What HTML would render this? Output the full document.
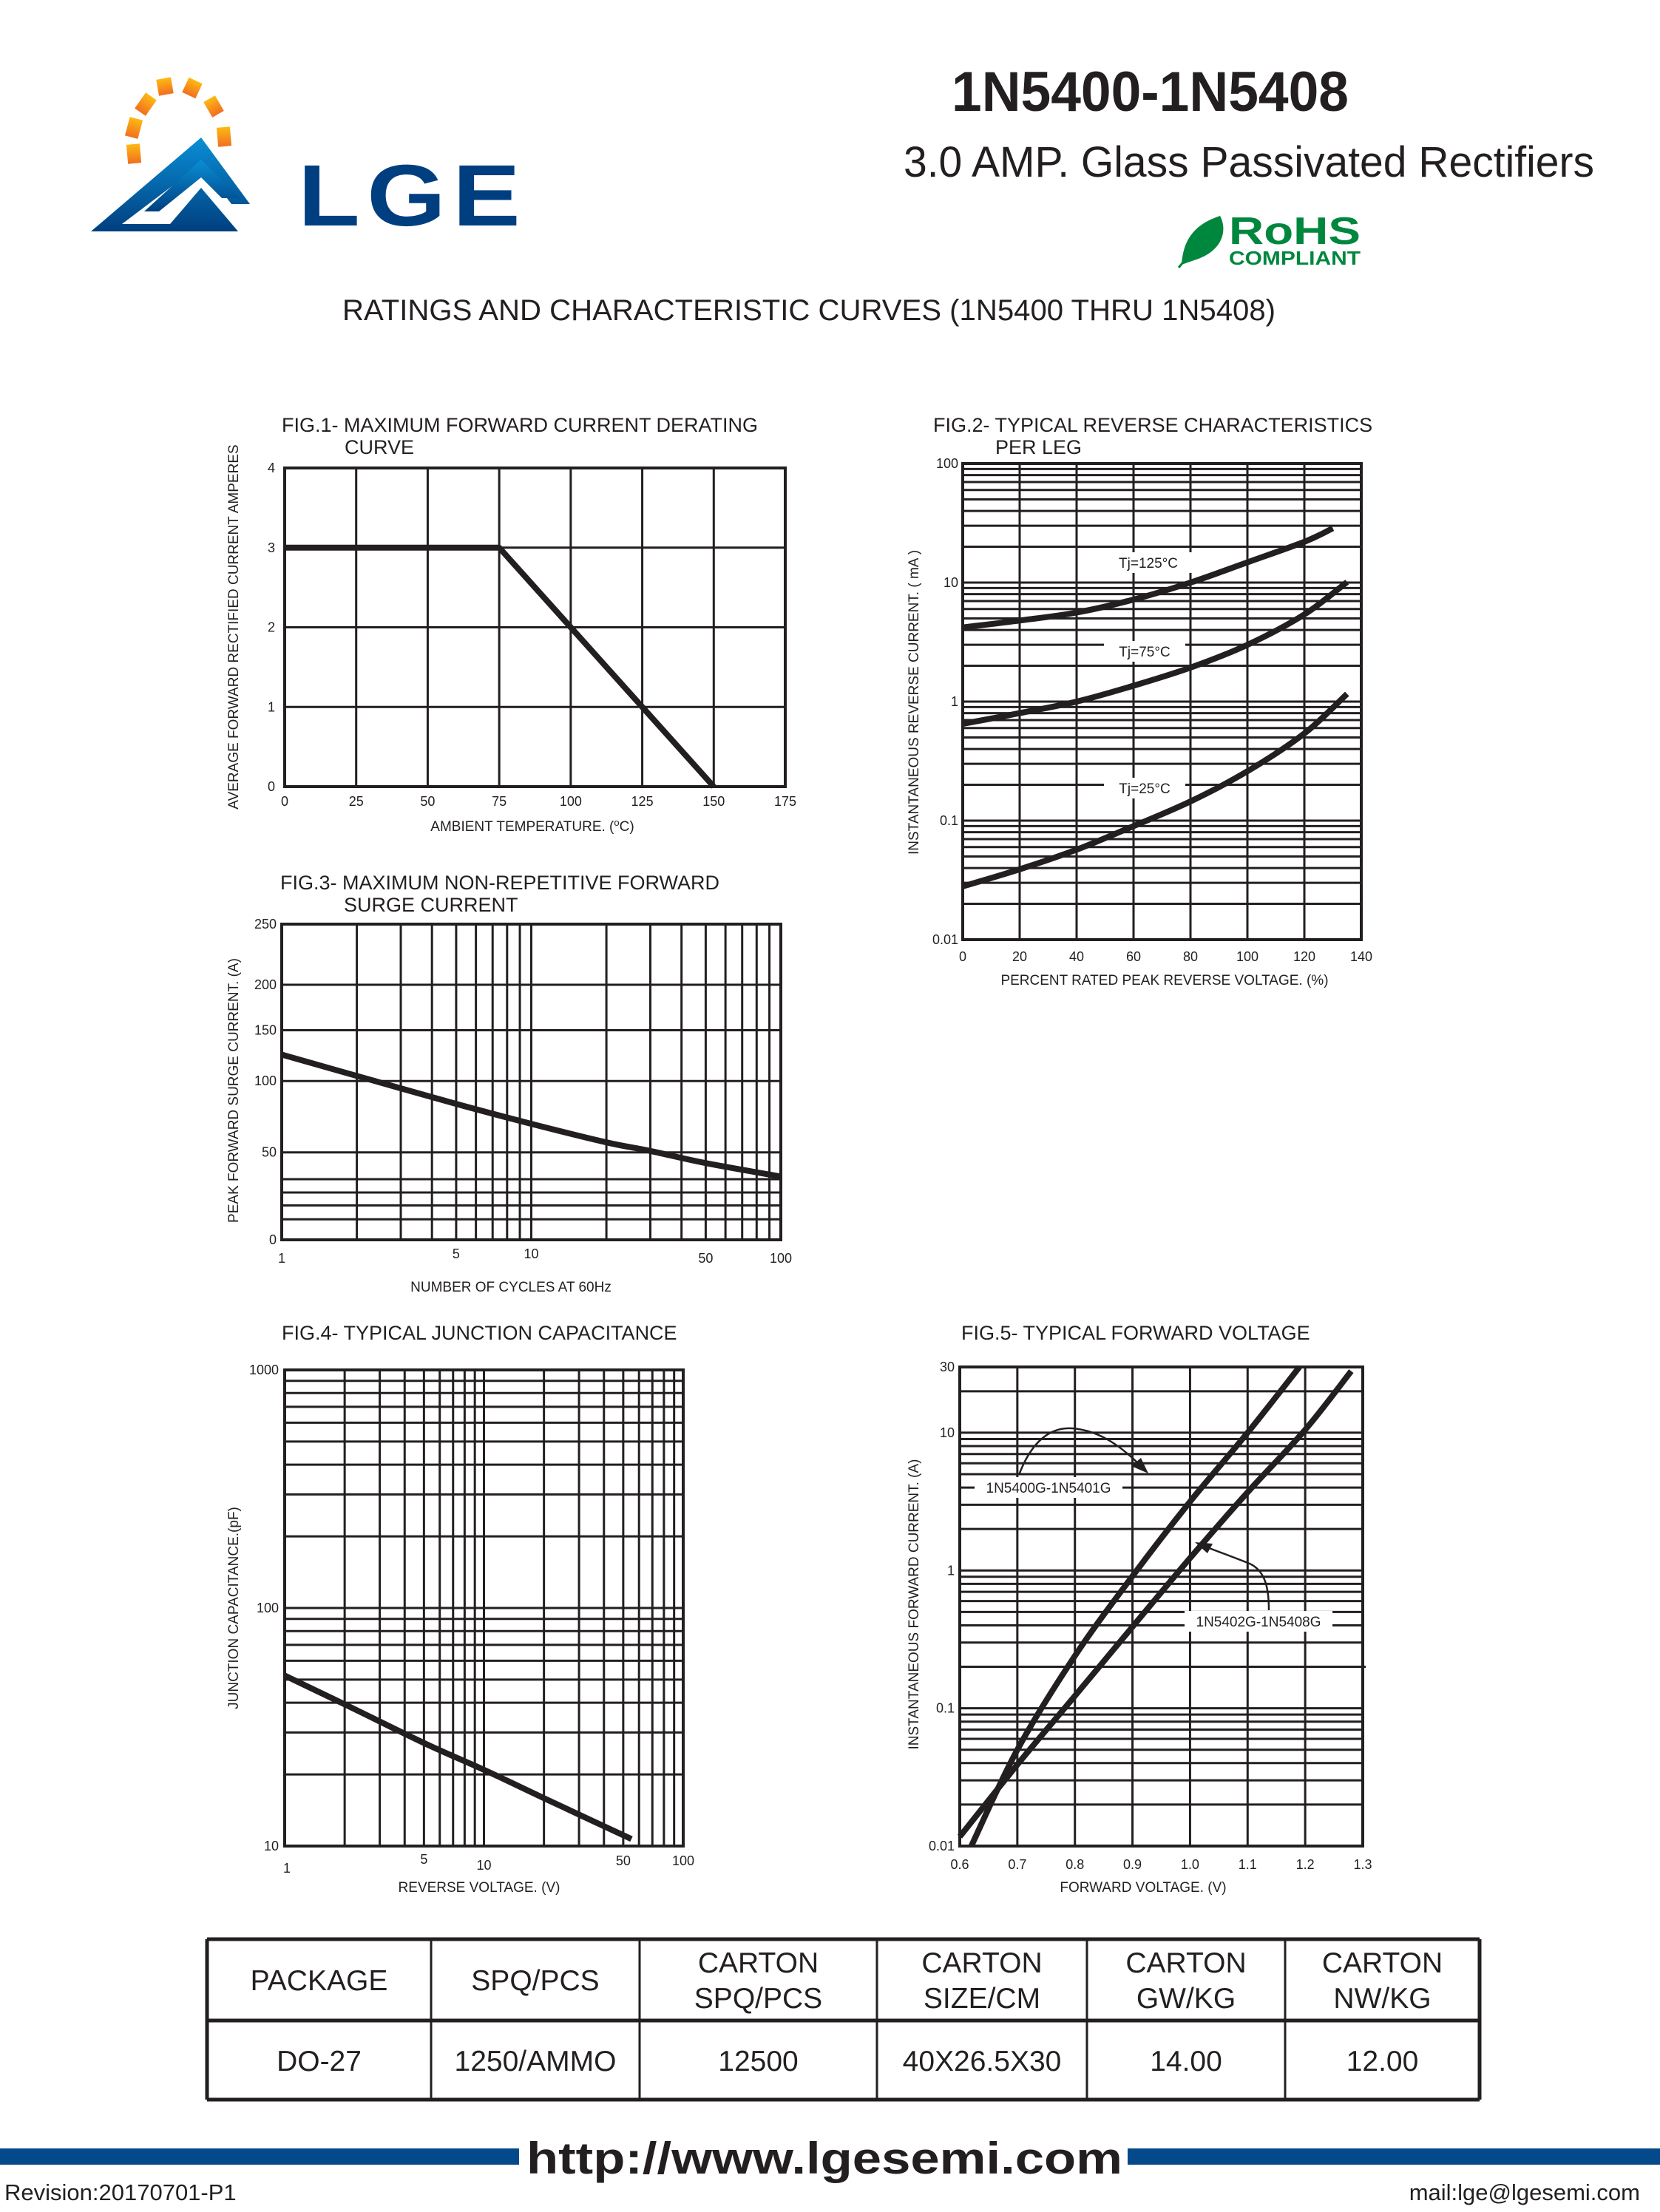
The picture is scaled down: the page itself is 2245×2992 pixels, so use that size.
<!DOCTYPE html>
<html><head><meta charset="utf-8">
<style>
html,body{margin:0;padding:0;background:#fff;}
body{width:2245px;height:2987px;position:relative;overflow:hidden;font-family:"Liberation Sans",Arial,sans-serif;}
svg text{font-family:"Liberation Sans",Arial,sans-serif;fill:#231f20;}
</style></head>
<body>
<svg id="page" width="2245" height="2987" viewBox="0 0 2245 2987" xmlns="http://www.w3.org/2000/svg">
  <g>
    <defs>
      <linearGradient id="blueg" x1="0" y1="0" x2="0" y2="1">
        <stop offset="0" stop-color="#0a8fd6"/><stop offset="1" stop-color="#003f7f"/>
      </linearGradient>
      <linearGradient id="sung" x1="0" y1="0" x2="0" y2="1">
        <stop offset="0" stop-color="#fdb913"/><stop offset="1" stop-color="#f26f21"/>
      </linearGradient>
    </defs>
    <g fill="url(#sung)">
      <rect x="172" y="195" width="18" height="26" transform="rotate(-5 181 208)"/>
      <rect x="172" y="160" width="18" height="26" transform="rotate(15 181 173)"/>
      <rect x="188" y="128" width="18" height="26" transform="rotate(35 197 141)"/>
      <rect x="213" y="106" width="20" height="22" transform="rotate(-10 223 117)"/>
      <rect x="250" y="108" width="20" height="22" transform="rotate(25 260 119)"/>
      <rect x="280" y="132" width="18" height="24" transform="rotate(-30 289 144)"/>
      <rect x="294" y="172" width="18" height="26" transform="rotate(-5 303 185)"/>
    </g>
    <polygon points="123,313 272,186 338,276 313,276 272,222 165,303 230,303 272,254 322,313" fill="url(#blueg)"/>
    <polygon points="195,286 272,216 325,268 300,268 272,240 215,286" fill="url(#blueg)"/>
    <text x="403" y="305" font-size="118" font-weight="bold" style="fill:#003f7f;letter-spacing:8px" textLength="310" lengthAdjust="spacingAndGlyphs">LGE</text>
  </g>
  <text x="1287" y="150" font-size="76" font-weight="bold" textLength="537" lengthAdjust="spacingAndGlyphs">1N5400-1N5408</text>
  <text x="1689" y="239" font-size="58" text-anchor="middle" textLength="934" lengthAdjust="spacingAndGlyphs">3.0 AMP.  Glass Passivated  Rectifiers</text>
  <g>
    <path d="M1598,358 C1600,330 1610,305 1650,292 C1660,310 1655,340 1615,352 Z" fill="#00873e"/>
    <line x1="1594" y1="362" x2="1645" y2="300" stroke="#00873e" stroke-width="3"/>
    <text x="1662" y="330" font-size="52" font-weight="bold" style="fill:#00873e" textLength="178" lengthAdjust="spacingAndGlyphs">RoHS</text>
    <text x="1662" y="358" font-size="26" font-weight="bold" style="fill:#00873e" textLength="178" lengthAdjust="spacingAndGlyphs">COMPLIANT</text>
  </g>
  <text x="463" y="433" font-size="40" textLength="1262" lengthAdjust="spacingAndGlyphs">RATINGS AND CHARACTERISTIC CURVES (1N5400 THRU 1N5408)</text>

  <g id="charts"></g>
  <g id="tbl"></g>

  <rect x="0" y="2906" width="702" height="22" fill="#044a8a"/>
  <rect x="1525" y="2906" width="720" height="22" fill="#044a8a"/>
  <text x="712" y="2940" font-size="60" font-weight="bold" textLength="806" lengthAdjust="spacingAndGlyphs">http://www.lgesemi.com</text>
  <text x="6" y="2976" font-size="31">Revision:20170701-P1</text>
  <text x="2218" y="2976" font-size="31" text-anchor="end">mail:lge@lgesemi.com</text>
</svg>
<script>
// ---------- Chart data ----------
const fig1Temps = [0, 75, 150];
const fig1Amps = [3, 3, 0];
const fig1XTicks = [0, 25, 50, 75, 100, 125, 150, 175];
const fig1YTicks = [0, 1, 2, 3, 4];

const fig2Pct = [0, 20, 40, 60, 80, 100, 120, 130];
const fig2Tj125 = [4.2, 4.8, 5.6, 7.2, 10, 14.8, 22, 28.6];
const fig2Pct75 = [0, 20, 40, 60, 80, 100, 120, 135];
const fig2Tj75 = [0.65, 0.8, 1.0, 1.36, 1.93, 3.0, 5.4, 10.1];
const fig2Pct25 = [0, 20, 40, 60, 80, 100, 120, 135];
const fig2Tj25 = [0.028, 0.039, 0.057, 0.09, 0.145, 0.26, 0.54, 1.16];
const fig2XTicks = [0, 20, 40, 60, 80, 100, 120, 140];
const fig2YTicks = [0.01, 0.1, 1, 10, 100];
const fig2YLabels = ['0.01', '0.1', '1', '10', '100'];

const fig3Cycles = [1, 2, 5, 10, 20, 30, 50, 100];
const fig3Amps = [126, 105, 84, 70, 57, 51, 46, 41];
const fig3XTicks = [1, 5, 10, 50, 100];
const fig3YTicks = [0, 50, 100, 150, 200, 250];
const fig3YGrid = [0, 10, 20, 30, 40, 50, 100, 150, 200, 250];

const fig4Volts = [1, 2, 5, 10, 20, 55];
const fig4Cap = [52, 39.4, 27.1, 20.9, 15.9, 10.7];
const fig4XTicks = [1, 5, 10, 50, 100];
const fig4YTicks = [10, 100, 1000];

const fig5VoltsA = [0.62, 0.7, 0.8, 0.9, 1.0, 1.1, 1.19];
const fig5AmpsA = [0.01, 0.05, 0.24, 0.91, 3.16, 10, 30];
const fig5VoltsB = [0.6, 0.7, 0.8, 0.9, 1.0, 1.1, 1.2, 1.28];
const fig5AmpsB = [0.0117, 0.039, 0.123, 0.39, 1.23, 3.7, 10.5, 28];
const fig5XTicks = [0.6, 0.7, 0.8, 0.9, 1.0, 1.1, 1.2, 1.3];
const fig5YTicks = [0.01, 0.1, 1, 10, 30];
const fig5YLabels = ['0.01', '0.1', '1', '10', '30'];

const tableHeaders = [['PACKAGE'], ['SPQ/PCS'], ['CARTON', 'SPQ/PCS'], ['CARTON', 'SIZE/CM'], ['CARTON', 'GW/KG'], ['CARTON', 'NW/KG']];
const tableValues = ['DO-27', '1250/AMMO', '12500', '40X26.5X30', '14.00', '12.00'];

// ---------- helpers ----------
const NS = 'http://www.w3.org/2000/svg';
const root = document.getElementById('charts');
function el(tag, parent) { const e = document.createElementNS(NS, tag); parent.appendChild(e); return e; }
function lin(d0, d1, p0, p1) { return v => p0 + (v - d0) / (d1 - d0) * (p1 - p0); }
function logs(d0, d1, p0, p1) { const a = Math.log10(d0), b = Math.log10(d1); return v => p0 + (Math.log10(v) - a) / (b - a) * (p1 - p0); }
function pw(vals, fracs, p0, p1) {
  return v => { for (let i = 0; i < vals.length - 1; i++) { if (v <= vals[i + 1] || i === vals.length - 2) { const t = (v - vals[i]) / (vals[i + 1] - vals[i]); const f = fracs[i] + t * (fracs[i + 1] - fracs[i]); return p0 + f * (p1 - p0); } } };
}
function logGrid(d0, d1) { const out = []; let dec = Math.pow(10, Math.floor(Math.log10(d0) + 1e-9)); while (dec < d1 * 1.0001) { for (let k = 1; k <= 9; k++) { const v = +(k * dec).toPrecision(6); if (v >= d0 * 0.9999 && v <= d1 * 1.0001) out.push(v); } dec *= 10; } return out; }
function smoothPath(pts) {
  let d = 'M' + pts[0][0].toFixed(1) + ',' + pts[0][1].toFixed(1);
  for (let i = 0; i < pts.length - 1; i++) {
    const p0 = pts[i - 1] || pts[i], p1 = pts[i], p2 = pts[i + 1], p3 = pts[i + 2] || p2;
    const c1 = [p1[0] + (p2[0] - p0[0]) / 6, p1[1] + (p2[1] - p0[1]) / 6];
    const c2 = [p2[0] - (p3[0] - p1[0]) / 6, p2[1] - (p3[1] - p1[1]) / 6];
    d += ' C' + c1.map(n => n.toFixed(1)).join(',') + ' ' + c2.map(n => n.toFixed(1)).join(',') + ' ' + p2[0].toFixed(1) + ',' + p2[1].toFixed(1);
  }
  return d;
}
function txt(parent, x, y, s, size, anchor) { const t = el('text', parent); t.setAttribute('x', x); t.setAttribute('y', y); t.setAttribute('font-size', size); if (anchor) t.setAttribute('text-anchor', anchor); t.textContent = s; return t; }
function hline(g, x0, x1, y, w) { const l = el('line', g); l.setAttribute('x1', x0); l.setAttribute('x2', x1); l.setAttribute('y1', y); l.setAttribute('y2', y); l.setAttribute('stroke', '#231f20'); l.setAttribute('stroke-width', w); return l; }
function vline(g, x, y0, y1, w) { const l = el('line', g); l.setAttribute('x1', x); l.setAttribute('x2', x); l.setAttribute('y1', y0); l.setAttribute('y2', y1); l.setAttribute('stroke', '#231f20'); l.setAttribute('stroke-width', w); return l; }
function frame(g, L, T, R, B) { const r = el('rect', g); r.setAttribute('x', L); r.setAttribute('y', T); r.setAttribute('width', R - L); r.setAttribute('height', B - T); r.setAttribute('fill', 'none'); r.setAttribute('stroke', '#231f20'); r.setAttribute('stroke-width', 4); return r; }
function curve(g, xs, ys, X, Y, smooth) { const pts = xs.map((v, i) => [X(v), Y(ys[i])]); const p = el('path', g); p.setAttribute('d', smooth ? smoothPath(pts) : 'M' + pts.map(q => q.join(',')).join(' L')); p.setAttribute('fill', 'none'); p.setAttribute('stroke', '#231f20'); p.setAttribute('stroke-width', 8); p.setAttribute('stroke-linejoin', 'round'); return p; }
function yTitle(g, x, y, s) { const t = txt(g, 0, 0, s, 19, 'middle'); t.setAttribute('transform', 'translate(' + x + ',' + y + ') rotate(-90)'); return t; }
function labelBox(g, cx, cy, w, s) { const r = el('rect', g); r.setAttribute('x', cx - w / 2); r.setAttribute('y', cy - 14); r.setAttribute('width', w); r.setAttribute('height', 28); r.setAttribute('fill', '#fff'); return txt(g, cx, cy + 7, s, 19, 'middle'); }

// ---------- Fig 1 ----------
(function () {
  const g = el('g', root);
  
  
  const L = 385, T = 633, R = 1062, B = 1064;
  const X = lin(0, 175, L, R), Y = lin(0, 4, B, T);
  fig1XTicks.forEach(v => { vline(g, X(v), T, B, 3); const t = txt(g, X(v), 1090, String(v), 18, 'middle');   });
  fig1YTicks.forEach(v => { hline(g, L, R, Y(v), 3); const t = txt(g, 372, Y(v) + 6, String(v), 18, 'end');   });
  frame(g, L, T, R, B);
  const c = curve(g, fig1Temps, fig1Amps, X, Y, false);
  
  
  const t1 = txt(g, 381, 584, 'FIG.1- MAXIMUM FORWARD CURRENT DERATING', 27);
  
  
  txt(g, 466, 614, 'CURVE', 27);
  const xt = txt(g, 720, 1124, '', 19, 'middle');
  
  
  xt.innerHTML = 'AMBIENT TEMPERATURE. (<tspan font-size="13" dy="-7">o</tspan><tspan dy="7">C)</tspan>';
  const yt = yTitle(g, 322, 848, 'AVERAGE FORWARD RECTIFIED CURRENT AMPERES');
  
  
})();

// ---------- Fig 2 ----------
(function () {
  const g = el('g', root);
  
  
  const L = 1302, T = 627, R = 1841, B = 1271;
  const X = lin(0, 140, L, R), Y = logs(0.01, 100, B, T);
  logGrid(0.01, 100).forEach(v => hline(g, L, R, Y(v), 3));
  fig2XTicks.forEach(v => { vline(g, X(v), T, B, 3); const t = txt(g, X(v), 1300, String(v), 18, 'middle');   });
  fig2YTicks.forEach((v, i) => { const t = txt(g, 1296, Y(v) + 6, fig2YLabels[i], 18, 'end');   });
  frame(g, L, T, R, B);
  const lb1 = labelBox(g, 1553, 761, 120, 'Tj=125°C');
  
  
  const lb2 = labelBox(g, 1548, 881, 110, 'Tj=75°C');
  
  
  const lb3 = labelBox(g, 1548, 1066, 110, 'Tj=25°C');
  
  
  const c1 = curve(g, fig2Pct, fig2Tj125, X, Y, true);
  
  
  const c2 = curve(g, fig2Pct75, fig2Tj75, X, Y, true);
  
  
  const c3 = curve(g, fig2Pct25, fig2Tj25, X, Y, true);
  
  
  const t1 = txt(g, 1262, 584, 'FIG.2- TYPICAL REVERSE CHARACTERISTICS', 27);
  
  
  txt(g, 1346, 614, 'PER LEG', 27);
  const xt = txt(g, 1575, 1332, 'PERCENT RATED PEAK REVERSE VOLTAGE. (%)', 19, 'middle');
  
  
  const yt = yTitle(g, 1242, 950, 'INSTANTANEOUS REVERSE CURRENT. ( mA )');
  
  
})();

// ---------- Fig 3 ----------
(function () {
  const g = el('g', root);
  
  
  const L = 381, T = 1250, R = 1056, B = 1677;
  const X = logs(1, 100, L, R);
  const Y = pw(fig3YGrid, [1, 0.935, 0.891, 0.85, 0.808, 0.723, 0.497, 0.336, 0.192, 0], T, B);
  logGrid(1, 100).forEach(v => vline(g, X(v), T, B, 3));
  fig3YGrid.forEach(v => hline(g, L, R, Y(v), 3));
  fig3XTicks.forEach(v => { const t = txt(g, X(v), v === 1 || v === 50 || v === 100 ? 1708 : 1702, String(v), 18, 'middle');   });
  fig3YTicks.forEach(v => { const t = txt(g, 374, Y(v) + 6, String(v), 18, 'end');   });
  frame(g, L, T, R, B);
  const c = curve(g, fig3Cycles, fig3Amps, X, Y, true);
  
  
  const t1 = txt(g, 379, 1203, 'FIG.3- MAXIMUM NON-REPETITIVE FORWARD', 27);
  
  
  txt(g, 465, 1233, 'SURGE CURRENT', 27);
  const xt = txt(g, 691, 1747, 'NUMBER OF CYCLES AT 60Hz', 19, 'middle');
  
  
  const yt = yTitle(g, 322, 1475, 'PEAK FORWARD SURGE CURRENT. (A)');
  
  
})();

// ---------- Fig 4 ----------
(function () {
  const g = el('g', root);
  
  
  const L = 385, T = 1853, R = 924, B = 2497;
  const X = logs(1, 100, L, R), Y = logs(10, 1000, B, T);
  logGrid(1, 100).forEach(v => vline(g, X(v), T, B, 3));
  logGrid(10, 1000).forEach(v => hline(g, L, R, Y(v), 3));
  const xOff = { 1: 30, 5: 18, 10: 26, 50: 20, 100: 20 };
  fig4XTicks.forEach(v => { const t = txt(g, X(v) + (v === 1 ? 3 : 0), B + xOff[v] + 6, String(v), 18, 'middle');   });
  fig4YTicks.forEach(v => { const t = txt(g, 377, Y(v) + 6, String(v), 18, 'end');   });
  frame(g, L, T, R, B);
  const c = curve(g, fig4Volts, fig4Cap, X, Y, true);
  
  
  const t1 = txt(g, 381, 1812, 'FIG.4- TYPICAL JUNCTION CAPACITANCE', 27);
  
  
  const xt = txt(g, 648, 2559, 'REVERSE VOLTAGE. (V)', 19, 'middle');
  
  
  const yt = yTitle(g, 322, 2175, 'JUNCTION CAPACITANCE.(pF)');
  
  
})();

// ---------- Fig 5 ----------
(function () {
  const g = el('g', root);
  
  
  const L = 1298, T = 1849, R = 1843, B = 2497;
  const X = lin(0.6, 1.3, L, R), Y = logs(0.01, 30, B, T);
  logGrid(0.01, 30).forEach(v => hline(g, L, v === 0.2 ? R + 4 : R, Y(v), 3));
  fig5XTicks.forEach(v => { vline(g, X(v), T, B, 3); const t = txt(g, X(v), 2528, v.toFixed(1), 18, 'middle');   });
  fig5YTicks.forEach((v, i) => { const t = txt(g, 1291, Y(v) + 6, fig5YLabels[i], 18, 'end');   });
  frame(g, L, T, R, B);
  const lb1 = labelBox(g, 1418, 2012, 200, '1N5400G-1N5401G');
  
  
  const lb2 = labelBox(g, 1702, 2193, 200, '1N5402G-1N5408G');
  
  
  const a1 = el('path', g);
  a1.setAttribute('d', 'M1378,1995 C1395,1950 1420,1930 1450,1932 C1490,1935 1520,1960 1545,1985');
  a1.setAttribute('fill', 'none'); a1.setAttribute('stroke', '#231f20'); a1.setAttribute('stroke-width', 2.5);
  
  
  const h1 = el('polygon', g); h1.setAttribute('points', '1553,1993 1530,1983 1543,1972'); h1.setAttribute('fill', '#231f20');
  const a2 = el('path', g);
  a2.setAttribute('d', 'M1716,2178 C1716,2150 1712,2125 1690,2115 C1665,2105 1640,2096 1625,2090');
  a2.setAttribute('fill', 'none'); a2.setAttribute('stroke', '#231f20'); a2.setAttribute('stroke-width', 2.5);
  
  
  const h2 = el('polygon', g); h2.setAttribute('points', '1616,2086 1640,2088 1633,2101'); h2.setAttribute('fill', '#231f20');
  const cA = curve(g, fig5VoltsA, fig5AmpsA, X, Y, true);
  
  
  const cB = curve(g, fig5VoltsB, fig5AmpsB, X, Y, true);
  
  
  const t1 = txt(g, 1300, 1812, 'FIG.5- TYPICAL FORWARD VOLTAGE', 27);
  
  
  const xt = txt(g, 1546, 2559, 'FORWARD VOLTAGE. (V)', 19, 'middle');
  
  
  const yt = yTitle(g, 1242, 2170, 'INSTANTANEOUS FORWARD CURRENT. (A)');
  
  
})();

// ---------- Table ----------
(function () {
  const g = document.getElementById('tbl');
  const cols = [280, 583, 865, 1186, 1470, 1738, 2001];
  const T = 2623, M = 2733, B = 2840;
  hline(g, cols[0], cols[6], T, 5); hline(g, cols[0], cols[6], M, 5); hline(g, cols[0], cols[6], B, 5);
  cols.forEach((x, i) => vline(g, x, T, B, (i === 0 || i === 6) ? 5 : 3));
  tableHeaders.forEach((lines, i) => {
    const cx = (cols[i] + cols[i + 1]) / 2;
    if (lines.length === 1) {
      const t = txt(g, cx, 2692, lines[0], 39, 'middle');
      
      
    } else {
      const t = txt(g, cx, 2668, lines[0], 39, 'middle');
      
      
      txt(g, cx, 2716, lines[1], 39, 'middle');
    }
  });
  tableValues.forEach((s, i) => {
    const t = txt(g, (cols[i] + cols[i + 1]) / 2, 2801, s, 39, 'middle');
    
    
  });
})();
</script>
</body></html>
